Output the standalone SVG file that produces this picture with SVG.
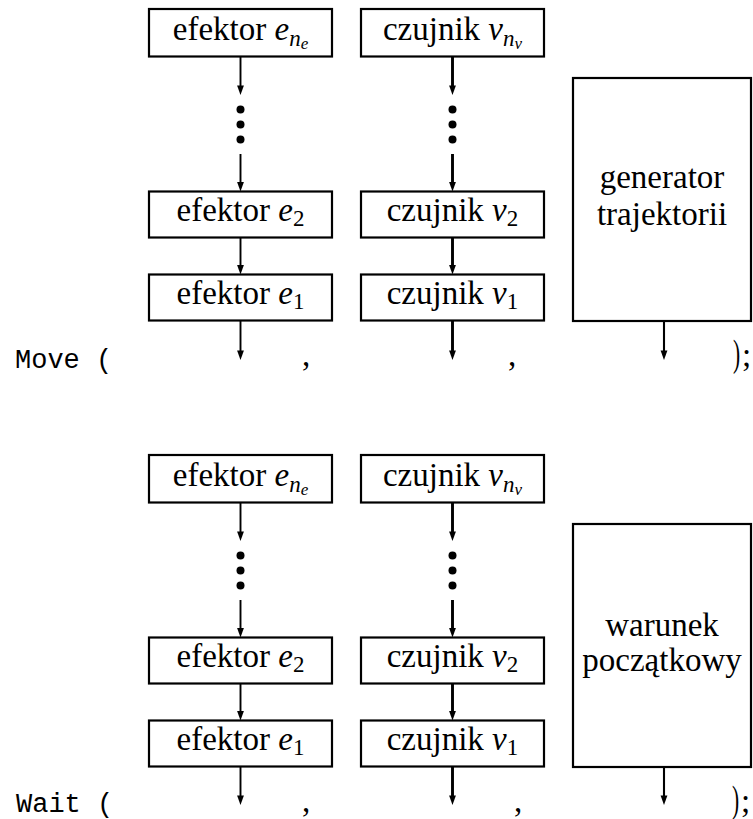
<svg xmlns="http://www.w3.org/2000/svg" xmlns:xlink="http://www.w3.org/1999/xlink" width="753" height="819" viewBox="0 0 753 819">
  <style>
    .box { fill: none; stroke: #000; stroke-width: 2.2; }
    .lbl { font-size: 33px; text-anchor: middle; fill: #000; }
    .rm { font-size: 33px; fill: #000; }
    .tt { font-size: 27px; fill: #000; }
    .it { font-style: italic; }
    .sub { font-style: italic; font-size: 23px; }
    .sub2 { font-style: italic; font-size: 17px; }
    .num { font-size: 23px; }
    .c1 { stroke: #000; stroke-width: 1.9; fill: none; }
    .c2 { stroke: #000; stroke-width: 2.9; fill: none; }
    .c3 { stroke: #000; stroke-width: 2.1; fill: none; }
    .dot { fill: #000; }
  </style>
  <defs>
    <!-- arrowhead, tip at the origin, pointing down -->
    <path id="ah" d="M-3.4,-9.5 L3.4,-9.5 L0,0 Z" fill="#000"/>
  </defs>
  <rect width="753" height="819" fill="#fff"/>

  <!-- Move (...) -->
  <g id="move" font-family="'Liberation Serif', 'Times New Roman', serif">
    <g id="move-eff-n">
      <rect class="box" x="149" y="9" width="183" height="47.5"/>
      <text class="lbl" x="240.5" y="39.5">efektor <tspan class="it">e</tspan><tspan class="sub" dy="6">n</tspan><tspan class="sub2" dy="3">e</tspan></text>
    </g>
    <g id="move-sens-n">
      <rect class="box" x="361" y="9" width="183" height="47.5"/>
      <text class="lbl" x="452.5" y="39.5">czujnik <tspan class="it">v</tspan><tspan class="sub" dy="6">n</tspan><tspan class="sub2" dy="3">v</tspan></text>
    </g>
    <g id="move-eff-2">
      <rect class="box" x="149" y="191.5" width="183" height="46"/>
      <text class="lbl" x="240.5" y="221">efektor <tspan class="it">e</tspan><tspan class="num" dy="5">2</tspan></text>
    </g>
    <g id="move-sens-2">
      <rect class="box" x="361" y="191.5" width="183" height="46"/>
      <text class="lbl" x="452.5" y="221">czujnik <tspan class="it">v</tspan><tspan class="num" dy="5">2</tspan></text>
    </g>
    <g id="move-eff-1">
      <rect class="box" x="149" y="274.5" width="183" height="46"/>
      <text class="lbl" x="240.5" y="304">efektor <tspan class="it">e</tspan><tspan class="num" dy="5">1</tspan></text>
    </g>
    <g id="move-sens-1">
      <rect class="box" x="361" y="274.5" width="183" height="46"/>
      <text class="lbl" x="452.5" y="304">czujnik <tspan class="it">v</tspan><tspan class="num" dy="5">1</tspan></text>
    </g>
    <g id="move-gen">
      <rect class="box" x="573" y="78" width="178" height="243"/>
      <text class="lbl" x="662" y="188">generator</text>
      <text class="lbl" x="662" y="225">trajektorii</text>
    </g>
    <g id="move-connectors">
      <path class="c1" d="M240.5,56.5 V89 M240.5,154 V185.5 M240.5,237.5 V268.5 M240.5,320.5 V354"/>
      <use xlink:href="#ah" x="240.5" y="95"/>
      <use xlink:href="#ah" x="240.5" y="191.5"/>
      <use xlink:href="#ah" x="240.5" y="274.5"/>
      <use xlink:href="#ah" x="240.5" y="360"/>
      <circle class="dot" cx="240.5" cy="109.5" r="4"/>
      <circle class="dot" cx="240.5" cy="124.5" r="4"/>
      <circle class="dot" cx="240.5" cy="139.5" r="4"/>
      <path class="c2" d="M452.5,56.5 V89 M452.5,154 V185.5 M452.5,237.5 V268.5 M452.5,320.5 V354"/>
      <use xlink:href="#ah" x="452.5" y="95"/>
      <use xlink:href="#ah" x="452.5" y="191.5"/>
      <use xlink:href="#ah" x="452.5" y="274.5"/>
      <use xlink:href="#ah" x="452.5" y="360"/>
      <circle class="dot" cx="452.5" cy="109.5" r="4"/>
      <circle class="dot" cx="452.5" cy="124.5" r="4"/>
      <circle class="dot" cx="452.5" cy="139.5" r="4"/>
      <path class="c3" d="M664,321 V354"/>
      <use xlink:href="#ah" x="664" y="360"/>
    </g>
    <g id="move-call">
      <text class="tt" font-family="'Liberation Mono', 'Courier New', monospace" x="15" y="368">Move (</text>
      <text class="rm" x="302" y="366">,</text>
      <text class="rm" x="508" y="366">,</text>
      <text class="rm" font-size="42" transform="translate(733,365.5) scale(0.65,1.15)">)</text>
      <text class="rm" x="742" y="366">;</text>
    </g>
  </g>

  <!-- Wait (...) -->
  <g id="wait" transform="translate(0,446)" font-family="'Liberation Serif', 'Times New Roman', serif">
    <g id="wait-eff-n">
      <rect class="box" x="149" y="9" width="183" height="47.5"/>
      <text class="lbl" x="240.5" y="39.5">efektor <tspan class="it">e</tspan><tspan class="sub" dy="6">n</tspan><tspan class="sub2" dy="3">e</tspan></text>
    </g>
    <g id="wait-sens-n">
      <rect class="box" x="361" y="9" width="183" height="47.5"/>
      <text class="lbl" x="452.5" y="39.5">czujnik <tspan class="it">v</tspan><tspan class="sub" dy="6">n</tspan><tspan class="sub2" dy="3">v</tspan></text>
    </g>
    <g id="wait-eff-2">
      <rect class="box" x="149" y="191.5" width="183" height="46"/>
      <text class="lbl" x="240.5" y="221">efektor <tspan class="it">e</tspan><tspan class="num" dy="5">2</tspan></text>
    </g>
    <g id="wait-sens-2">
      <rect class="box" x="361" y="191.5" width="183" height="46"/>
      <text class="lbl" x="452.5" y="221">czujnik <tspan class="it">v</tspan><tspan class="num" dy="5">2</tspan></text>
    </g>
    <g id="wait-eff-1">
      <rect class="box" x="149" y="274.5" width="183" height="46"/>
      <text class="lbl" x="240.5" y="304">efektor <tspan class="it">e</tspan><tspan class="num" dy="5">1</tspan></text>
    </g>
    <g id="wait-sens-1">
      <rect class="box" x="361" y="274.5" width="183" height="46"/>
      <text class="lbl" x="452.5" y="304">czujnik <tspan class="it">v</tspan><tspan class="num" dy="5">1</tspan></text>
    </g>
    <g id="wait-cond">
      <rect class="box" x="573" y="78" width="178" height="243"/>
      <text class="lbl" x="662" y="190">warunek</text>
      <text class="lbl" x="662" y="225">początkowy</text>
    </g>
    <g id="wait-connectors">
      <path class="c1" d="M240.5,56.5 V89 M240.5,154 V185.5 M240.5,237.5 V268.5 M240.5,320.5 V353"/>
      <use xlink:href="#ah" x="240.5" y="95"/>
      <use xlink:href="#ah" x="240.5" y="191.5"/>
      <use xlink:href="#ah" x="240.5" y="274.5"/>
      <use xlink:href="#ah" x="240.5" y="359"/>
      <circle class="dot" cx="240.5" cy="109.5" r="4"/>
      <circle class="dot" cx="240.5" cy="124.5" r="4"/>
      <circle class="dot" cx="240.5" cy="139.5" r="4"/>
      <path class="c2" d="M452.5,56.5 V89 M452.5,154 V185.5 M452.5,237.5 V268.5 M452.5,320.5 V353"/>
      <use xlink:href="#ah" x="452.5" y="95"/>
      <use xlink:href="#ah" x="452.5" y="191.5"/>
      <use xlink:href="#ah" x="452.5" y="274.5"/>
      <use xlink:href="#ah" x="452.5" y="359"/>
      <circle class="dot" cx="452.5" cy="109.5" r="4"/>
      <circle class="dot" cx="452.5" cy="124.5" r="4"/>
      <circle class="dot" cx="452.5" cy="139.5" r="4"/>
      <path class="c3" d="M664,321 V353"/>
      <use xlink:href="#ah" x="664" y="359"/>
    </g>
    <g id="wait-call">
      <text class="tt" font-family="'Liberation Mono', 'Courier New', monospace" x="16" y="366">Wait (</text>
      <text class="rm" x="302" y="366">,</text>
      <text class="rm" x="514" y="366">,</text>
      <text class="rm" font-size="42" transform="translate(732,365.5) scale(0.65,1.15)">)</text>
      <text class="rm" x="741" y="366">;</text>
    </g>
  </g>
</svg>
